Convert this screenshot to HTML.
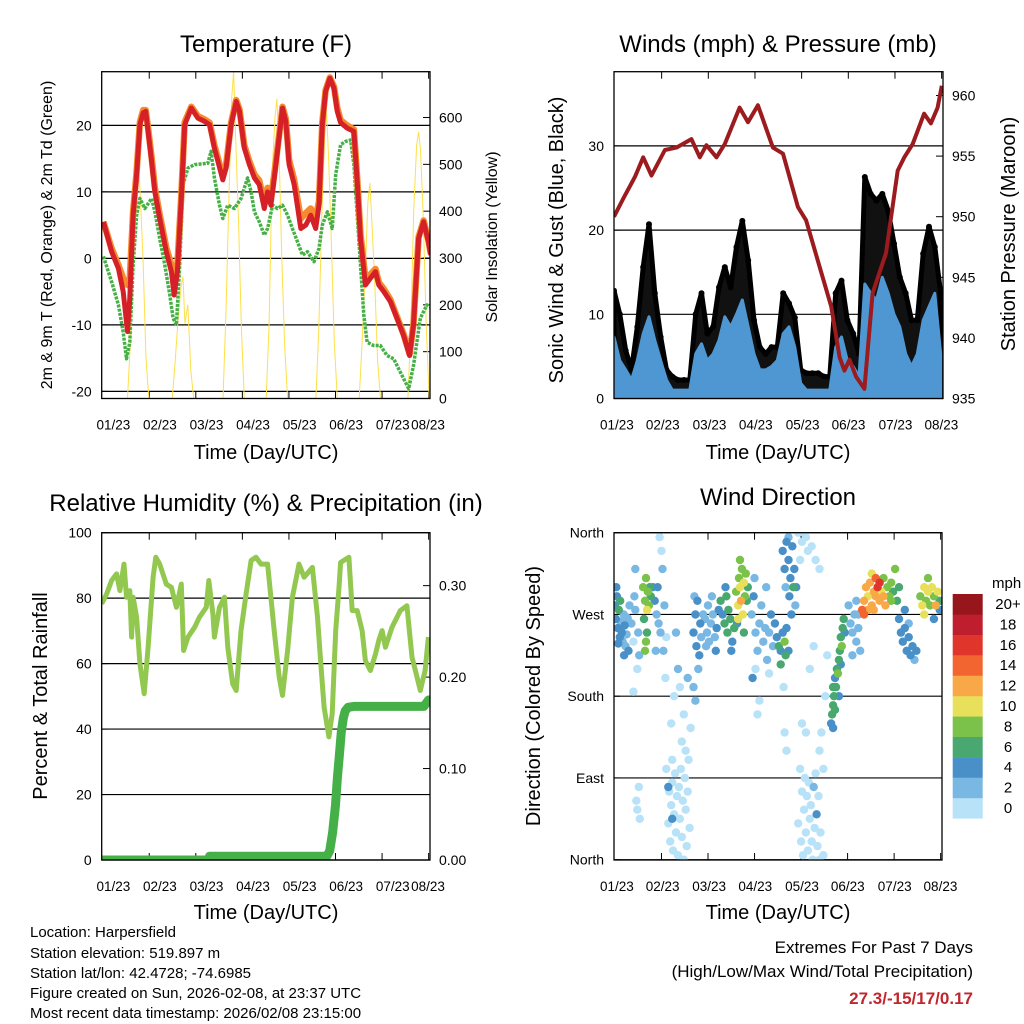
<!DOCTYPE html>
<html><head><meta charset="utf-8"><style>
html,body{margin:0;padding:0;background:#fff;}
svg{display:block;font-family:"Liberation Sans",Arial,sans-serif;}
</style></head><body>
<svg id="fig" width="1024" height="1024" viewBox="0 0 1024 1024" xmlns="http://www.w3.org/2000/svg">
<rect x="0" y="0" width="1024" height="1024" fill="#fff"/>
<g id="layer"></g>
<text x="266" y="52" font-size="24" text-anchor="middle">Temperature (F)</text>
<text x="778" y="52" font-size="24" text-anchor="middle">Winds (mph) &amp; Pressure (mb)</text>
<text x="266" y="511" font-size="24" text-anchor="middle">Relative Humidity (%) &amp; Precipitation (in)</text>
<text x="778" y="505" font-size="24" text-anchor="middle">Wind Direction</text>
<text x="266" y="459" font-size="20" text-anchor="middle">Time (Day/UTC)</text>
<text x="778" y="459" font-size="20" text-anchor="middle">Time (Day/UTC)</text>
<text x="266" y="919" font-size="20" text-anchor="middle">Time (Day/UTC)</text>
<text x="778" y="919" font-size="20" text-anchor="middle">Time (Day/UTC)</text>
<text transform="translate(52,235) rotate(-90)" font-size="16" text-anchor="middle">2m &amp; 9m T (Red, Orange) &amp; 2m Td (Green)</text>
<text transform="translate(497,237) rotate(-90)" font-size="16" text-anchor="middle">Solar Insolation (Yellow)</text>
<text transform="translate(563,240) rotate(-90)" font-size="20" text-anchor="middle">Sonic Wind &amp; Gust (Blue, Black)</text>
<text transform="translate(1015,234) rotate(-90)" font-size="20" text-anchor="middle">Station Pressure (Maroon)</text>
<text transform="translate(47,696) rotate(-90)" font-size="20" text-anchor="middle">Percent &amp; Total Rainfall</text>
<text transform="translate(540,696) rotate(-90)" font-size="20" text-anchor="middle">Direction (Colored By Speed)</text>
<text x="992" y="588" font-size="15" text-anchor="start">mph</text>
<g font-size="15">
<text x="30" y="937">Location: Harpersfield</text>
<text x="30" y="958">Station elevation: 519.897 m</text>
<text x="30" y="978">Station lat/lon: 42.4728; -74.6985</text>
<text x="30" y="998">Figure created on Sun, 2026-02-08, at 23:37 UTC</text>
<text x="30" y="1018">Most recent data timestamp: 2026/02/08 23:15:00</text>
</g>
<text x="973" y="953" font-size="17" text-anchor="end">Extremes For Past 7 Days</text>
<text x="973" y="977" font-size="17" text-anchor="end">(High/Low/Max Wind/Total Precipitation)</text>
<text x="973" y="1004" font-size="17" font-weight="bold" fill="#c0272d" text-anchor="end">27.3/-15/17/0.17</text>
</svg>
<script>
// ---------- data ----------
const redHours=[0.9,5.1,8.6,11.1,13.3,14.5,16.2,18,19.7,21.4,22.7,23.9,25.7,27.4,29.9,33.3,35.9,37.3,39,41,42.8,46.2,49.6,53,55.6,58.1,62.4,64.1,66.7,69.3,71,73.5,76.1,78.7,81.2,83.8,85.5,87.2,89.8,93.2,94.9,96.6,99.2,102.6,105.2,107.7,110.3,112,113.7,115.4,117.6,119.7,121.4,123.1,126.5,130,131.7,133.4,135.9,138.5,141.1,142.8,145.4,148.8,152.2,155.6,158.7,160.7,163.3,165.9,168.4,169.6];
const redTemp=[5.5,1,-1.5,-5,-11,-6,6.5,12.6,20.1,21.9,22.1,19.1,14.6,10,6,1,-2,-5.5,-2,9,20.1,22.6,21.1,20.6,20.1,16.6,11.8,13.6,20.1,23.6,22.1,16.6,14.1,12.1,11.1,7.5,10,8,14.1,22.6,20.6,14.1,11.1,4.5,5,6.5,4.5,8,20.1,25.1,27.1,25.6,22.1,20.4,19.6,19.1,11.6,3,-4,-3,-2,-4,-5,-6.5,-9,-11.6,-14.6,-10,3,5.5,2.5,0.5];
const orangeTemp=[5.5,1.5,-1,-3,-4,-3,7,13,20.5,22.3,22.3,19.6,15.2,10.6,6.6,1.6,-1,-3.5,-1,9.5,20.5,22.8,21.4,20.9,20.4,17,12.4,14,20.4,23.8,22.4,17,14.6,12.6,11.7,8.2,10.6,8.8,14.6,22.8,21,14.8,11.8,6,6.8,7.5,6,8.6,20.4,25.3,27.2,25.8,22.6,20.8,20,19.4,12,3.6,-3,-2.4,-1.6,-3.6,-4.6,-6.2,-8.8,-11.4,-14.4,-9.8,3.2,5.7,2.7,0.7];
const dewHours=[0.9,5.1,8.6,11.1,12.8,14.5,16.2,18,19.7,22.2,25.7,27.4,29.9,32.5,35.1,36.8,38.5,40.2,41.9,44.5,47.9,54.7,56.4,58.1,60.7,62.4,65,68.4,71.8,75.2,77,78.7,81.2,83.8,85.5,88.1,90.6,93.2,95.8,98.3,100.9,103.5,106,109.4,112,113.7,116.3,118.8,120.6,123.1,125.7,128.3,130,131.7,133.4,135.1,136.8,140.2,143.6,147.1,150.5,153.9,158.2,160.7,164.2,167.6,169.3];
const dewTemp=[0.3,-3.5,-7,-11.1,-15.1,-12.6,-1,6.5,9,7.5,9,7,3,-1,-5.5,-9,-10,-1,11.1,13.6,14.1,14.3,16.1,12.1,8,6,8,7.5,9,12.1,10,7,5.5,3.5,4.5,8,7.5,8,6.5,4.5,2.5,0.5,1,-0.5,1.5,5,7,4.5,12.6,17.1,17.6,17.8,14.1,6.5,-1,-8.5,-12.6,-13.1,-13.1,-14.6,-15.1,-17.1,-19.6,-16.1,-9,-7,-7.3];
const solarHours=[13.3,14.8,16.3,17.8,18.8,19.8,21.3,22.8,24.3, 36.4,37.9,39.4,40.9,41.9,42.9,44.4,45.9,47.4, 62.5,64,65.5,67,68,69,70.5,72,73.5, 84.8,86.3,87.8,89.3,90.3,91.3,92.8,94.3,95.8, 110.4,111.9,113.4,114.9,115.9,116.9,118.4,119.9,121.4, 132.7,134.2,135.7,137.2,138.2,139.2,140.7,142.2,143.7, 157.8,159.3,160.8,162.3,163.3,164.3,165.8,167.3,168.8];
const solarVals=[0,120,330,480,520,440,300,90,0, 0,80,170,240,260,160,200,60,0, 0,180,420,640,700,560,380,150,0, 0,160,480,600,640,540,300,110,0, 0,150,380,560,610,520,330,120,0, 0,120,260,420,460,380,250,80,0, 0,150,400,540,570,530,380,150,0];

const windHours=[0,3,6,9,12,15,18,21,24,27,30,33,36,39,42,45,48,51,54,57,60,63,66,69,72,75,78,81,84,87,90,93,96,99,102,105,108,111,114,117,120,123,126,129,132,135,138,141,144,147,150,153,156,159,162,165,168];
const windSpeed=[7.3,4.5,3.4,2.2,4.5,7.7,9.7,6.9,4.5,2.2,1,1,1,1,5.3,6.5,4.5,5.3,6.9,9.7,8.5,10,11.7,8.5,5.3,3.4,3.4,3.8,4.5,7.7,8.5,6.1,1.8,1,1,1,1,1,6.1,7.3,4.5,3.8,2.6,13.6,12.5,11.7,14.4,12.5,10,8.5,5.3,3.8,5.3,9.3,10.9,12.5,5.3];
const windGust=[12.8,10,5.7,3.4,8.5,15.6,20.7,12.5,7.3,3.4,2.6,2.2,2.2,2.2,10,12.5,7.7,8.5,13.2,15.6,13.2,18,21.1,16.4,9.3,6.1,5.3,6.1,6.1,12.5,11.3,9.6,3.4,3,3,3,2.6,2.6,12.5,14,9.3,7.7,5.3,26.3,24.3,23.5,24.3,22.3,18.4,14.4,12.5,9.3,9.3,17.2,20.4,18,12.5];
const presHours=[0,4.8,10.8,15,19.3,26.2,32.1,39.8,44.1,47.5,52.7,57,64.6,68.9,74,81.7,86.9,94.6,98.8,105.7,111.7,116,118.5,121.1,124.5,128.8,133,139.9,145.9,149.3,153.6,159.5,163,166.4,168.6];
const presVals=[950,951.5,953.3,954.9,953.4,955.5,955.7,956.4,954.9,955.9,954.9,956,959,957.8,959.2,955.7,955.2,950.8,949.7,945.9,942.6,938.4,937.3,938.2,936.8,935.8,943.7,947,953.8,954.9,956,958.5,957.7,959,960.8];

const rhHours=[0,2.6,5.1,7.7,9.4,11.5,12.8,14.5,15.4,16.2,18,19.7,21.9,23.9,26.5,27.9,29.9,33.3,35.9,38.5,41,42.2,44.5,47.9,50.4,53.9,55.2,57.3,58.1,60.7,63.3,65,67.5,69.3,71.8,74.4,77,79.5,82.1,85.5,87.2,88.9,91.5,93.2,95.8,98.3,101.7,104.3,108.6,111.2,112.9,114.6,117.1,118.8,120.6,122.3,123.1,127.4,129.1,131.7,134.2,135.9,138.5,141.1,142.8,144.5,146.2,149.6,153.9,157.3,159.9,162.5,164.2,166.7,168.4];
const rhVals=[78.3,81.3,85.4,87.4,82.3,90.4,80.3,82.3,68.1,80.3,74.2,60,50.8,65,86.4,92.5,90.4,84.3,83.3,77.2,84.3,64,68.1,71.1,74.2,77.2,85.4,75.2,68.1,77.2,80.3,65,53.8,51.8,70.1,81.3,91.5,92.5,90.4,90.4,80.3,70.1,55.9,50.3,64,80.3,90.4,86.4,89.4,74.2,60,46.7,37.6,44.7,70.1,83.3,90.9,92.5,76.2,76.2,70.1,60.9,57.9,62.9,67.1,70.1,65,71.1,76.2,77.7,62,55.9,51.8,57.9,68.1];
const precipHours=[0,55,55.6,116,117.5,119,120.5,121.5,122.5,123.5,124.5,125.5,127,130,150,166,168.5];
const precipVals=[0,0,0.004,0.004,0.01,0.03,0.06,0.09,0.115,0.14,0.155,0.163,0.167,0.168,0.168,0.168,0.175];

const dirHours=[0.5,1,1.5,2,2.5,3,3.5,4,4.5,5,5.5,6,6.5,7,7.5,8,1.2,3.2,5.2,2.2,
9,10,10.5,11,12,12.5,13,11.5,12,12.8,13.3,11,10,
15,16,16.5,17,17.5,18,16,16.5,17,15.5,18.5,19,
20,21,22,22.5,23,24,25,26,24.5,23.5,27,26.5,21.5,25.5,
27,28,28.5,29,29.5,30,30.5,31,31.5,32,32.5,33,33.5,34,34.5,35,35.5,36,36.5,37,37.5,38,38.5,39,29.5,31,33,35,36,38,39.5,30,32,34,37,28,30,
41,42,42.5,43,44,44.5,45,46,41.5,43.5,42,41,
47,48,48.5,49,50,51,52,53,54,50.5,47.5,52.5,
55,56,57,58,58.5,59,60,61,60.5,57.5,62,
63,64,64.5,65,65.5,66,66.5,67,67.5,68,68.5,69,63.5,64,65,67,
71,72,73,74,75,76,77,78,79,80,81,82,73,72.5,75,74,71.5,78.5,80,
83,84,85,86,87,88,88.5,89,90,86,87.5,88,89,
87,88,88.5,89,90,90.5,91,92,92.5,93,94,91.5,90,93.5,
95,96,96.5,97,97.5,98,98.5,99,99.5,100,100.5,101,101.5,102,102.5,103,103.5,104,104.5,105,105.5,106,106.5,107,108,99,97,101,103,96,97,99,100,102,104,106,95,98,106,108,109,110,
112,112.5,113,113.5,113,114,114.5,115,115.5,116,116.5,117,117.5,118,118.5,114,113,116,117,119,
121,122,123,124,125,126,127,125,123,126,
128,129,130,131,132,133,134,135,136,137,138,139,140,141,142,143,144,145,146,147,129,131,133,135,137,139,143,134,
147,148,149,150,151,152,153,154,155,156,150,152,
158,159,160,161,162,163,164,165,166,167,168,162,160,165,168];
const dirDeg=[280,265,290,255,275,245,262,250,240,270,258,235,248,266,230,280,300,285,225,238,
260,240,290,275,210,250,225,65,55,80,45,320,185,
300,285,310,275,295,280,230,240,250,265,300,290,
300,285,270,300,260,250,320,280,340,355,245,200,230,230,
100,40,75,20,60,85,10,50,95,30,70,5,80,45,100,25,65,0,90,55,15,75,110,35,150,180,210,130,160,200,145,110,250,190,120,80,45,
250,270,235,285,225,260,245,270,290,210,175,190,
265,250,280,240,260,270,245,255,275,290,235,230,
285,270,260,290,250,275,265,240,230,300,255,
295,280,310,300,285,320,270,305,290,315,285,300,260,265,330,250,
270,290,250,230,260,280,240,255,220,250,270,235,210,310,175,160,200,300,205,
260,245,235,230,250,240,225,255,230,215,190,140,120,
340,320,300,350,330,290,310,345,300,320,300,270,355,280,
40,100,20,75,5,55,90,30,70,10,85,45,60,20,0,80,35,95,50,15,70,120,30,140,100,140,150,210,235,330,350,355,340,345,330,320,360,360,0,5,180,225,
150,160,170,180,190,200,190,210,205,220,230,245,235,255,265,165,145,180,215,250,
280,260,250,270,240,255,230,285,225,270,
275,285,300,290,305,280,295,310,300,285,295,310,280,300,290,305,295,320,285,300,270,275,315,290,305,290,285,275,
265,250,240,255,230,245,225,235,220,230,275,260,
290,280,300,285,295,280,300,290,280,295,285,310,270,265,275];
const dirSpeed=[4,5,4,5,7,4,3,5,3,3,4,3,2,3,4,2,5,7,4,4,
2,1,3,2,1,2,2,1,1,1,1,2,1,
8,9,8,10,9,8,8,9,7,6,6,7,
4,5,3,4,3,2,3,2,1,1,1,1,2,2,
1,1,1,1,1,1,1,1,1,1,1,1,1,1,1,1,1,1,1,1,1,1,1,1,1,1,2,1,1,2,1,1,2,1,1,4,4,
4,5,4,4,5,4,3,3,3,2,2,2,
3,3,2,3,3,3,3,4,4,2,2,4,
6,5,7,6,6,7,6,4,4,5,7,
9,10,8,11,12,9,11,10,8,9,6,7,5,11,8,6,
3,4,3,3,2,3,3,2,3,2,4,3,1,2,1,1,4,2,1,
4,4,6,5,4,8,6,4,4,6,1,1,1,
4,5,3,4,4,4,4,5,6,4,4,4,2,3,
1,1,1,1,1,1,1,1,1,1,1,1,1,1,1,2,1,1,4,1,1,1,1,1,1,1,1,1,1,1,1,1,1,1,1,1,1,1,1,1,1,1,
4,6,6,6,7,4,6,6,8,7,6,6,8,6,7,6,4,4,4,4,
3,3,3,3,3,3,3,2,2,3,
15,13,13,11,13,12,13,15,17,12,11,9,13,8,9,8,7,8,7,6,15,13,11,13,16,13,8,12,
4,4,4,4,4,4,4,4,3,4,4,2,
9,10,11,9,10,8,10,9,12,10,6,9,11,5,4];

const tempTicks=[20,10,0,-10,-20];
const solarTicks=[0,100,200,300,400,500,600];
const windTicks=[0,10,20,30];
const presTicks=[935,940,945,950,955,960];
const rhTicks=[0,20,40,60,80,100];
const precipTicks=[0.00,0.10,0.20,0.30];
const dirTicks=[0,90,180,270,360];
const dirLabels=["North","East","South","West","North"];
const dayLabels=["01/23","02/23","03/23","04/23","05/23","06/23","07/23","08/23"];
const speedBins=[0,2,4,6,8,10,12,14,16,18,20];
const speedLabels=["0","2","4","6","8","10","12","14","16","18","20+"];
const speedColors=["#b8e2f8","#7ab8e4","#4a90c8","#48a870","#7bc24b","#e8e05a","#f9a848","#f26530","#e0352b","#be1e2d","#97161b"];

// ---------- axes ----------
const H=169.2;
const L={x0:101.7,x1:430,y0:71.7,y1:398.5};
const R={x0:614,x1:943,y0:71.7,y1:398.5};
const L2={x0:101.7,x1:430,y0:532.7,y1:860};
const R2={x0:614,x1:942,y0:532.7,y1:860};
const xL=h=>L.x0+h*(L.x1-L.x0)/H;
const xR=h=>R.x0+h*(R.x1-R.x0)/H;
const yT=v=>258.4-v*6.65;
const yS=s=>398.5-s*0.4683;
const yW=m=>398.5-m*8.42;
const yP=p=>398.5-(p-935)*12.12;
const yRH=r=>860-r*3.273;
const yPr=i=>860-i*914.5;
const yD=d=>859.7-d*(327/360);

const NS="http://www.w3.org/2000/svg";
const layer=document.getElementById("layer");
function mk(tag,attrs,parent){const e=document.createElementNS(NS,tag);for(const k in attrs)e.setAttribute(k,attrs[k]);(parent||layer).appendChild(e);return e;}
function pathOf(xs,ys,fx,fy){let d="";for(let i=0;i<xs.length;i++)d+=(i?"L":"M")+fx(xs[i]).toFixed(1)+","+fy(ys[i]).toFixed(1);return d;}

function frame(B,name,leftTicks,fyL,leftFmt,rightTicks,fyR,rightFmt,labelX){
  for(const v of leftTicks){
    const g=mk("line",{x1:B.x0,x2:B.x1,y1:fyL(v),y2:fyL(v),stroke:"#000","stroke-width":1.2});
    
    
    const t=mk("text",{x:B.x0-10,y:fyL(v)+5,"font-size":14,"text-anchor":"end"});
    t.textContent=leftFmt(v);
    
    
    const tk=mk("line",{x1:B.x0,x2:B.x0+6,y1:fyL(v),y2:fyL(v),stroke:"#000"});
    
    
  }
  if(rightTicks){for(const v of rightTicks){
    const t=mk("text",{x:B.x1+9,y:fyR(v)+5,"font-size":14,"text-anchor":"start"});
    t.textContent=rightFmt(v);
    
    
    const tk=mk("line",{x1:B.x1-7,x2:B.x1,y1:fyR(v),y2:fyR(v),stroke:"#000"});
    
    
  }}
  const fx=h=>B.x0+h*(B.x1-B.x0)/H;
  for(let k=0;k<7;k++){
    const h=24.5+24*k; if(h>H)break;
    const a=mk("line",{x1:fx(h),x2:fx(h),y1:B.y1,y2:B.y1-7,stroke:"#000"});
    
    
    const b=mk("line",{x1:fx(h),x2:fx(h),y1:B.y0,y2:B.y0+7,stroke:"#000"});
    
    
  }
  for(let k=0;k<dayLabels.length;k++){
    const t=mk("text",{x:Math.min(fx(labelX[k]),B.x1),y:B.y1+31,"font-size":13.5,"text-anchor":"middle"});
    t.textContent=dayLabels[k];
    
    
  }
}
const labelHoursL=[6,30,54,78,102,126,150,168.2];
const labelHoursR=[1.5,25.1,49.1,72.9,97,120.6,144.8,168.4];

// clip paths
const defs=mk("defs",{});
[["cL",L],["cR",R],["cL2",L2],["cR2",R2]].forEach(([id,B])=>{const c=mk("clipPath",{id:id},defs);mk("rect",{x:B.x0,y:B.y0,width:B.x1-B.x0,height:B.y1-B.y0},c);});

// ---------- panel 1: temperature ----------
frame(L,"temp",tempTicks,yT,v=>String(v),solarTicks,yS,v=>String(v),labelHoursL);
const g1=mk("g",{"clip-path":"url(#cL)"});


const solar=mk("path",{d:pathOf(solarHours,solarVals,xL,yS),fill:"none",stroke:"#fde04a","stroke-width":1},g1);


const dew=mk("path",{d:pathOf(dewHours,dewTemp,xL,yT),fill:"none",stroke:"#46b046","stroke-width":3.5,"stroke-dasharray":"3 1.2","stroke-linejoin":"round"},g1);


const org=mk("path",{d:pathOf(redHours,orangeTemp,xL,yT),fill:"none",stroke:"#f58a2e","stroke-width":6.5,"stroke-linejoin":"round"},g1);


const red=mk("path",{d:pathOf(redHours,redTemp,xL,yT),fill:"none",stroke:"#d42026","stroke-width":5,"stroke-linejoin":"round"},g1);



// ---------- panel 2: wind & pressure ----------
frame(R,"wind",windTicks,yW,v=>String(v),presTicks,yP,v=>String(v),labelHoursR);
const g2=mk("g",{"clip-path":"url(#cR)"});


let dg="M"+xR(windHours[0])+","+yW(0);
for(let i=0;i<windHours.length;i++)dg+="L"+xR(windHours[i]).toFixed(1)+","+yW(windGust[i]).toFixed(1);
dg+="L"+xR(windHours[windHours.length-1])+","+yW(0)+"Z";
const gustArea=mk("path",{d:dg,fill:"#111",stroke:"#000","stroke-width":5,"stroke-linejoin":"round"},g2);


for(let i=0;i<windHours.length;i++){
  const c=mk("circle",{cx:xR(windHours[i]),cy:yW(windGust[i]),r:3,fill:"#000"},g2);
  
  
}
let db="M"+xR(windHours[0])+","+yW(0);
for(let i=0;i<windHours.length;i++)db+="L"+xR(windHours[i]).toFixed(1)+","+yW(windSpeed[i]).toFixed(1);
db+="L"+xR(windHours[windHours.length-1])+","+yW(0)+"Z";
const windArea=mk("path",{d:db,fill:"#4f97d2",stroke:"#4f97d2","stroke-width":3,"stroke-linejoin":"round"},g2);


const pres=mk("path",{d:pathOf(presHours,presVals,xR,yP),fill:"none",stroke:"#9b1b1e","stroke-width":4,"stroke-linejoin":"round"},g2);



// ---------- panel 3: RH & precip ----------
frame(L2,"rh",rhTicks,yRH,v=>String(v),precipTicks,yPr,v=>v.toFixed(2),labelHoursL);
const g3=mk("g",{"clip-path":"url(#cL2)"});


const rh=mk("path",{d:pathOf(rhHours,rhVals,xL,yRH),fill:"none",stroke:"#92c850","stroke-width":5,"stroke-linejoin":"round"},g3);


const pr=mk("path",{d:pathOf(precipHours,precipVals,xL,yPr),fill:"none",stroke:"#46b048","stroke-width":9,"stroke-linejoin":"round","stroke-linecap":"round"},g3);



// ---------- panel 4: wind direction ----------
frame(R2,"dir",dirTicks,yD,v=>dirLabels[dirTicks.indexOf(v)],null,null,null,labelHoursR);
const g4=mk("g",{"clip-path":"url(#cR2)"});


const xD=h=>R2.x0+h*(R2.x1-R2.x0)/H;
const order=dirSpeed.map((s,i)=>i).sort((a,b)=>dirSpeed[a]-dirSpeed[b]);
function binOf(s){let b=0;for(let k=0;k<speedBins.length;k++)if(s>=speedBins[k])b=k;return b;}
for(const i of order){
  const c=mk("circle",{cx:xD(dirHours[i]).toFixed(1),cy:yD(dirDeg[i]).toFixed(1),r:4.2,fill:speedColors[binOf(dirSpeed[i])]},g4);
  
  
}
// colorbar
for(let k=0;k<speedColors.length;k++){
  const y=594+(speedColors.length-1-k)*20.4;
  const r=mk("rect",{x:952.7,y:y,width:30,height:20.6,fill:speedColors[k]});
  
  
  const t=mk("text",{x:1008,y:y+15,"font-size":15,"text-anchor":"middle"});
  t.textContent=speedLabels[k];
  
  
}

// frames on top
[["temp",L],["wind",R],["rh",L2],["dir",R2]].forEach(([n,B])=>{
  const r=mk("rect",{x:B.x0,y:B.y0,width:B.x1-B.x0,height:B.y1-B.y0,fill:"none",stroke:"#000","stroke-width":1.3});
  
  
});
</script>
</body></html>
